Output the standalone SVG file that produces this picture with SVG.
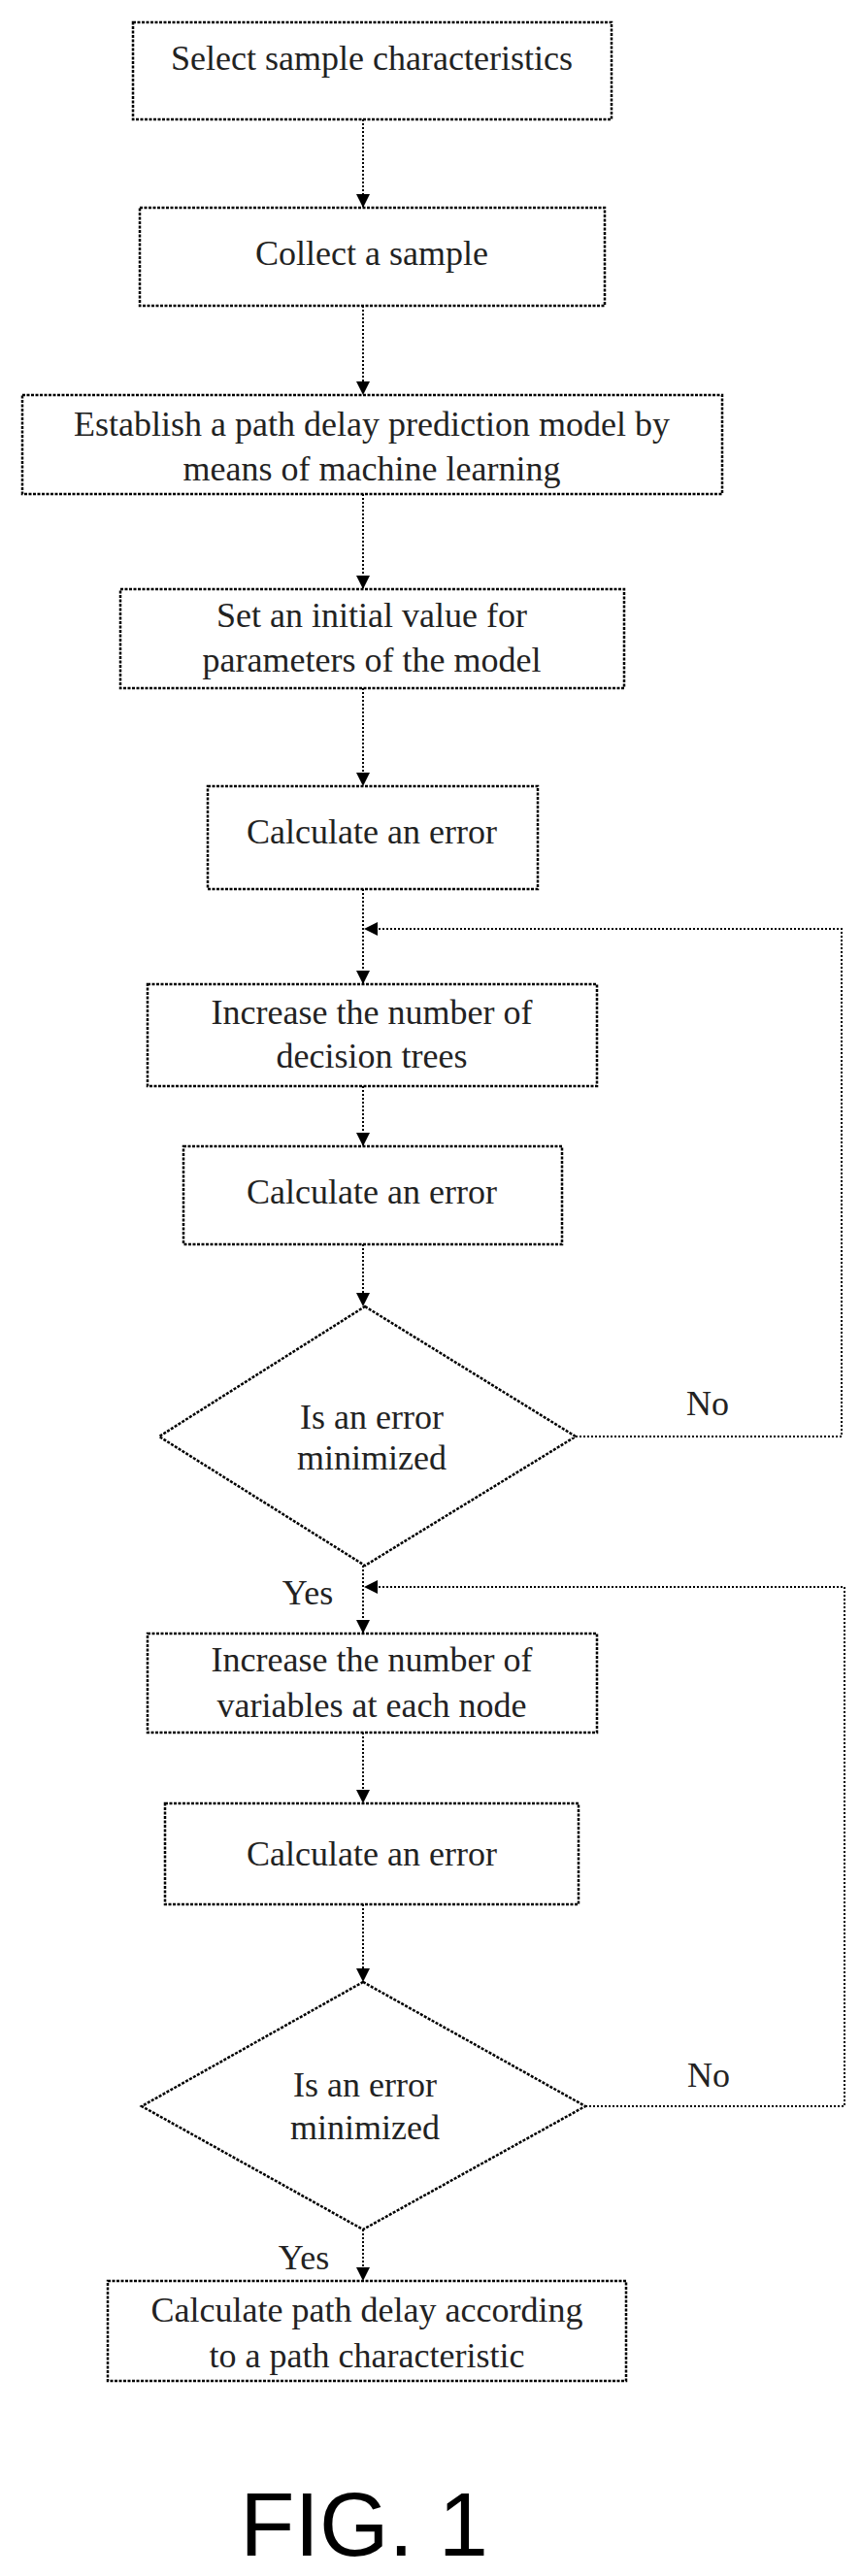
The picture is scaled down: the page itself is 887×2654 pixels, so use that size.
<svg xmlns="http://www.w3.org/2000/svg" width="887" height="2654" viewBox="0 0 887 2654">
<style>
.b{fill:#fff;stroke:#000;stroke-width:2.5;stroke-dasharray:3 1.5}
.t{font-family:"Liberation Serif",serif;font-size:36px;text-anchor:middle;fill:#222}
.c{fill:none;stroke:#000;stroke-width:2;stroke-dasharray:2 2}
.f{font-family:"Liberation Sans",Arial,sans-serif;font-size:92px;text-anchor:middle}
</style>
<defs>
<marker id="a" markerWidth="14" markerHeight="14" refX="13" refY="7" orient="auto" markerUnits="userSpaceOnUse"><path d="M0,0 L14,7 L0,14 z" fill="#000"/></marker>
</defs>
<rect width="887" height="2654" fill="#fff"/>
<g id="connectors">
<line class="c" x1="374" y1="123" x2="374" y2="213" marker-end="url(#a)"/>
<line class="c" x1="374" y1="315" x2="374" y2="406" marker-end="url(#a)"/>
<line class="c" x1="374" y1="509" x2="374" y2="606" marker-end="url(#a)"/>
<line class="c" x1="374" y1="709" x2="374" y2="809" marker-end="url(#a)"/>
<line class="c" x1="374" y1="916" x2="374" y2="1013" marker-end="url(#a)"/>
<polyline class="c" points="593,1480 867,1480 867,957 376,957" marker-end="url(#a)"/>
<line class="c" x1="374" y1="1119" x2="374" y2="1180" marker-end="url(#a)"/>
<line class="c" x1="374" y1="1282" x2="374" y2="1345" marker-end="url(#a)"/>
<line class="c" x1="374" y1="1613" x2="374" y2="1682" marker-end="url(#a)"/>
<polyline class="c" points="603,2170 870,2170 870,1635 376,1635" marker-end="url(#a)"/>
<line class="c" x1="374" y1="1785" x2="374" y2="1857" marker-end="url(#a)"/>
<line class="c" x1="374" y1="1962" x2="374" y2="2041" marker-end="url(#a)"/>
<line class="c" x1="374" y1="2297" x2="374" y2="2349" marker-end="url(#a)"/>
</g>
<g id="n1"><rect class="b" x="137" y="23" width="493" height="100"/><text class="t" x="383" y="72">Select sample characteristics</text></g>
<g id="n2"><rect class="b" x="144" y="214" width="479" height="101"/><text class="t" x="383" y="273">Collect a sample</text></g>
<g id="n3"><rect class="b" x="23" y="407" width="721" height="102"/><text class="t" x="383" y="449">Establish a path delay prediction model by</text><text class="t" x="383" y="495">means of machine learning</text></g>
<g id="n4"><rect class="b" x="124" y="607" width="519" height="102"/><text class="t" x="383" y="646">Set an initial value for</text><text class="t" x="383" y="692">parameters of the model</text></g>
<g id="n5"><rect class="b" x="214" y="810" width="340" height="106"/><text class="t" x="383" y="869">Calculate an error</text></g>
<g id="n6"><rect class="b" x="152" y="1014" width="463" height="105"/><text class="t" x="383" y="1055">Increase the number of</text><text class="t" x="383" y="1100">decision trees</text></g>
<g id="n7"><rect class="b" x="189" y="1181" width="390" height="101"/><text class="t" x="383" y="1240">Calculate an error</text></g>
<g id="n8"><polygon class="b" points="376,1346 593,1480 376,1613 164,1480"/><text class="t" x="383" y="1472">Is an error</text><text class="t" x="383" y="1514">minimized</text></g>
<g id="n9"><rect class="b" x="152" y="1683" width="463" height="102"/><text class="t" x="383" y="1722">Increase the number of</text><text class="t" x="383" y="1769">variables at each node</text></g>
<g id="n10"><rect class="b" x="170" y="1858" width="426" height="104"/><text class="t" x="383" y="1922">Calculate an error</text></g>
<g id="n11"><polygon class="b" points="374,2042 603,2170 374,2297 146,2170"/><text class="t" x="376" y="2160">Is an error</text><text class="t" x="376" y="2204">minimized</text></g>
<g id="n12"><rect class="b" x="111" y="2350" width="534" height="103"/><text class="t" x="378" y="2392">Calculate path delay according</text><text class="t" x="378" y="2439">to a path characteristic</text></g>
<g id="labels">
<text class="t" x="729" y="1458">No</text>
<text class="t" x="317" y="1653">Yes</text>
<text class="t" x="730" y="2150">No</text>
<text class="t" x="313" y="2338">Yes</text>
<text class="f" x="375" y="2633">FIG. 1</text>
</g>
</svg>
